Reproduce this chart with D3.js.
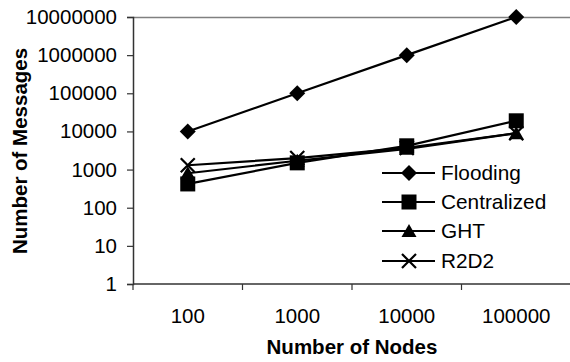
<!DOCTYPE html>
<html>
<head>
<meta charset="utf-8">
<script src="https://cdn.jsdelivr.net/npm/d3@7/dist/d3.min.js"></script>
<style>
  html, body { margin: 0; padding: 0; background: #fff; }
  svg { display: block; font-family: "Liberation Sans", Arial, sans-serif; }
</style>
</head>
<body>
<svg id="chart" width="570" height="362"></svg>
<script>
// Node counts on the x axis
const nodeCounts = ["100", "1000", "10000", "100000"];
// Messages per protocol, one value per node count
const flooding    = [10000, 100000, 1000000, 10000000];
const centralized = [420, 1500, 4200, 19000];
const ght         = [800, 1700, 3500, 9000];
const r2d2        = [1300, 2000, 3700, 9000];
const yTickValues = [1, 10, 100, 1000, 10000, 100000, 1000000, 10000000];

const series = [
  { name: "Flooding",    values: flooding,    symbol: "diamond" },
  { name: "Centralized", values: centralized, symbol: "square" },
  { name: "GHT",         values: ght,         symbol: "triangle" },
  { name: "R2D2",        values: r2d2,        symbol: "cross" }
];

const svg = d3.select("#chart");
const plot = { left: 133, right: 571, top: 17, bottom: 284 };
const tickFont = 20.5, legendFont = 20.8, titleFont = 20.5;

const x = d3.scaleBand().domain(nodeCounts).range([plot.left, plot.right]).paddingInner(0).paddingOuter(0);
const y = d3.scaleLog().domain([1, 10000000]).range([plot.bottom, plot.top]);
const cx = d => x(d) + x.bandwidth() / 2;

// top border of the plot area
svg.append("line")
  .attr("x1", plot.left).attr("x2", plot.right)
  .attr("y1", plot.top + 0.5).attr("y2", plot.top + 0.5)
  .attr("stroke", "#808080").attr("stroke-width", 1.5);

// y axis
const yAxis = svg.append("g")
  .attr("transform", `translate(${plot.left},0)`)
  .call(d3.axisLeft(y).tickValues(yTickValues).tickFormat(d3.format("d")).tickSize(6).tickPadding(10));
yAxis.select(".domain").attr("stroke", "#333").attr("stroke-width", 1.5);
yAxis.selectAll(".tick line").attr("stroke", "#333").attr("stroke-width", 1.2);
yAxis.selectAll(".tick text").attr("font-size", tickFont).attr("fill", "#000")
  .attr("font-family", "Liberation Sans, Arial, sans-serif");

// x axis: ticks sit on category boundaries
const xAxisG = svg.append("g").attr("transform", `translate(0,${plot.bottom})`);
xAxisG.append("line")
  .attr("x1", plot.left).attr("x2", plot.right)
  .attr("stroke", "#333").attr("stroke-width", 1.5);
const boundaries = nodeCounts.map(d => x(d)).concat([plot.right]);
xAxisG.selectAll(".xtick").data(boundaries).join("line")
  .attr("class", "xtick")
  .attr("x1", d => d).attr("x2", d => d)
  .attr("y1", 0).attr("y2", 6)
  .attr("stroke", "#333").attr("stroke-width", 1.2);
xAxisG.selectAll(".xlabel").data(nodeCounts).join("text")
  .attr("class", "xlabel")
  .attr("x", d => cx(d)).attr("y", 39)
  .attr("text-anchor", "middle")
  .attr("font-size", tickFont)
  .text(d => d);

// axis titles
svg.append("text")
  .attr("x", (plot.left + plot.right) / 2).attr("y", 354)
  .attr("text-anchor", "middle")
  .attr("font-size", titleFont).attr("font-weight", "bold")
  .text("Number of Nodes");
svg.append("text")
  .attr("transform", `translate(27,151) rotate(-90)`)
  .attr("text-anchor", "middle")
  .attr("font-size", titleFont).attr("font-weight", "bold")
  .text("Number of Messages");

// marker drawing
function drawMarker(g, symbol, px, py) {
  if (symbol === "diamond") {
    g.append("path").attr("d", `M${px},${py - 8}L${px + 8},${py}L${px},${py + 8}L${px - 8},${py}Z`).attr("fill", "#000");
  } else if (symbol === "square") {
    g.append("rect").attr("x", px - 7.5).attr("y", py - 7.5).attr("width", 15).attr("height", 15).attr("fill", "#000");
  } else if (symbol === "triangle") {
    g.append("path").attr("d", `M${px},${py - 7}L${px + 7.5},${py + 6}L${px - 7.5},${py + 6}Z`).attr("fill", "#000");
  } else if (symbol === "cross") {
    g.append("path").attr("d", `M${px - 7},${py - 7}L${px + 7},${py + 7}M${px + 7},${py - 7}L${px - 7},${py + 7}`)
      .attr("stroke", "#000").attr("stroke-width", 2.2).attr("fill", "none");
  }
}

const line = d3.line().x((d, i) => cx(nodeCounts[i])).y(d => y(d));
const marks = svg.append("g");
series.forEach(s => {
  marks.append("path").datum(s.values)
    .attr("d", line)
    .attr("fill", "none").attr("stroke", "#000").attr("stroke-width", 2.2);
});
series.forEach(s => {
  s.values.forEach((v, i) => drawMarker(marks, s.symbol, cx(nodeCounts[i]), y(v)));
});

// legend
const legend = svg.append("g");
const legendRows = [173, 202, 231, 261];
series.forEach((s, i) => {
  const ly = legendRows[i];
  legend.append("line").attr("x1", 382).attr("x2", 435).attr("y1", ly).attr("y2", ly)
    .attr("stroke", "#000").attr("stroke-width", 2.2);
  drawMarker(legend, s.symbol, 409, ly);
  legend.append("text").attr("x", 441).attr("y", ly).attr("dy", "0.35em")
    .attr("font-size", legendFont).text(s.name);
});
</script>
</body>
</html>
